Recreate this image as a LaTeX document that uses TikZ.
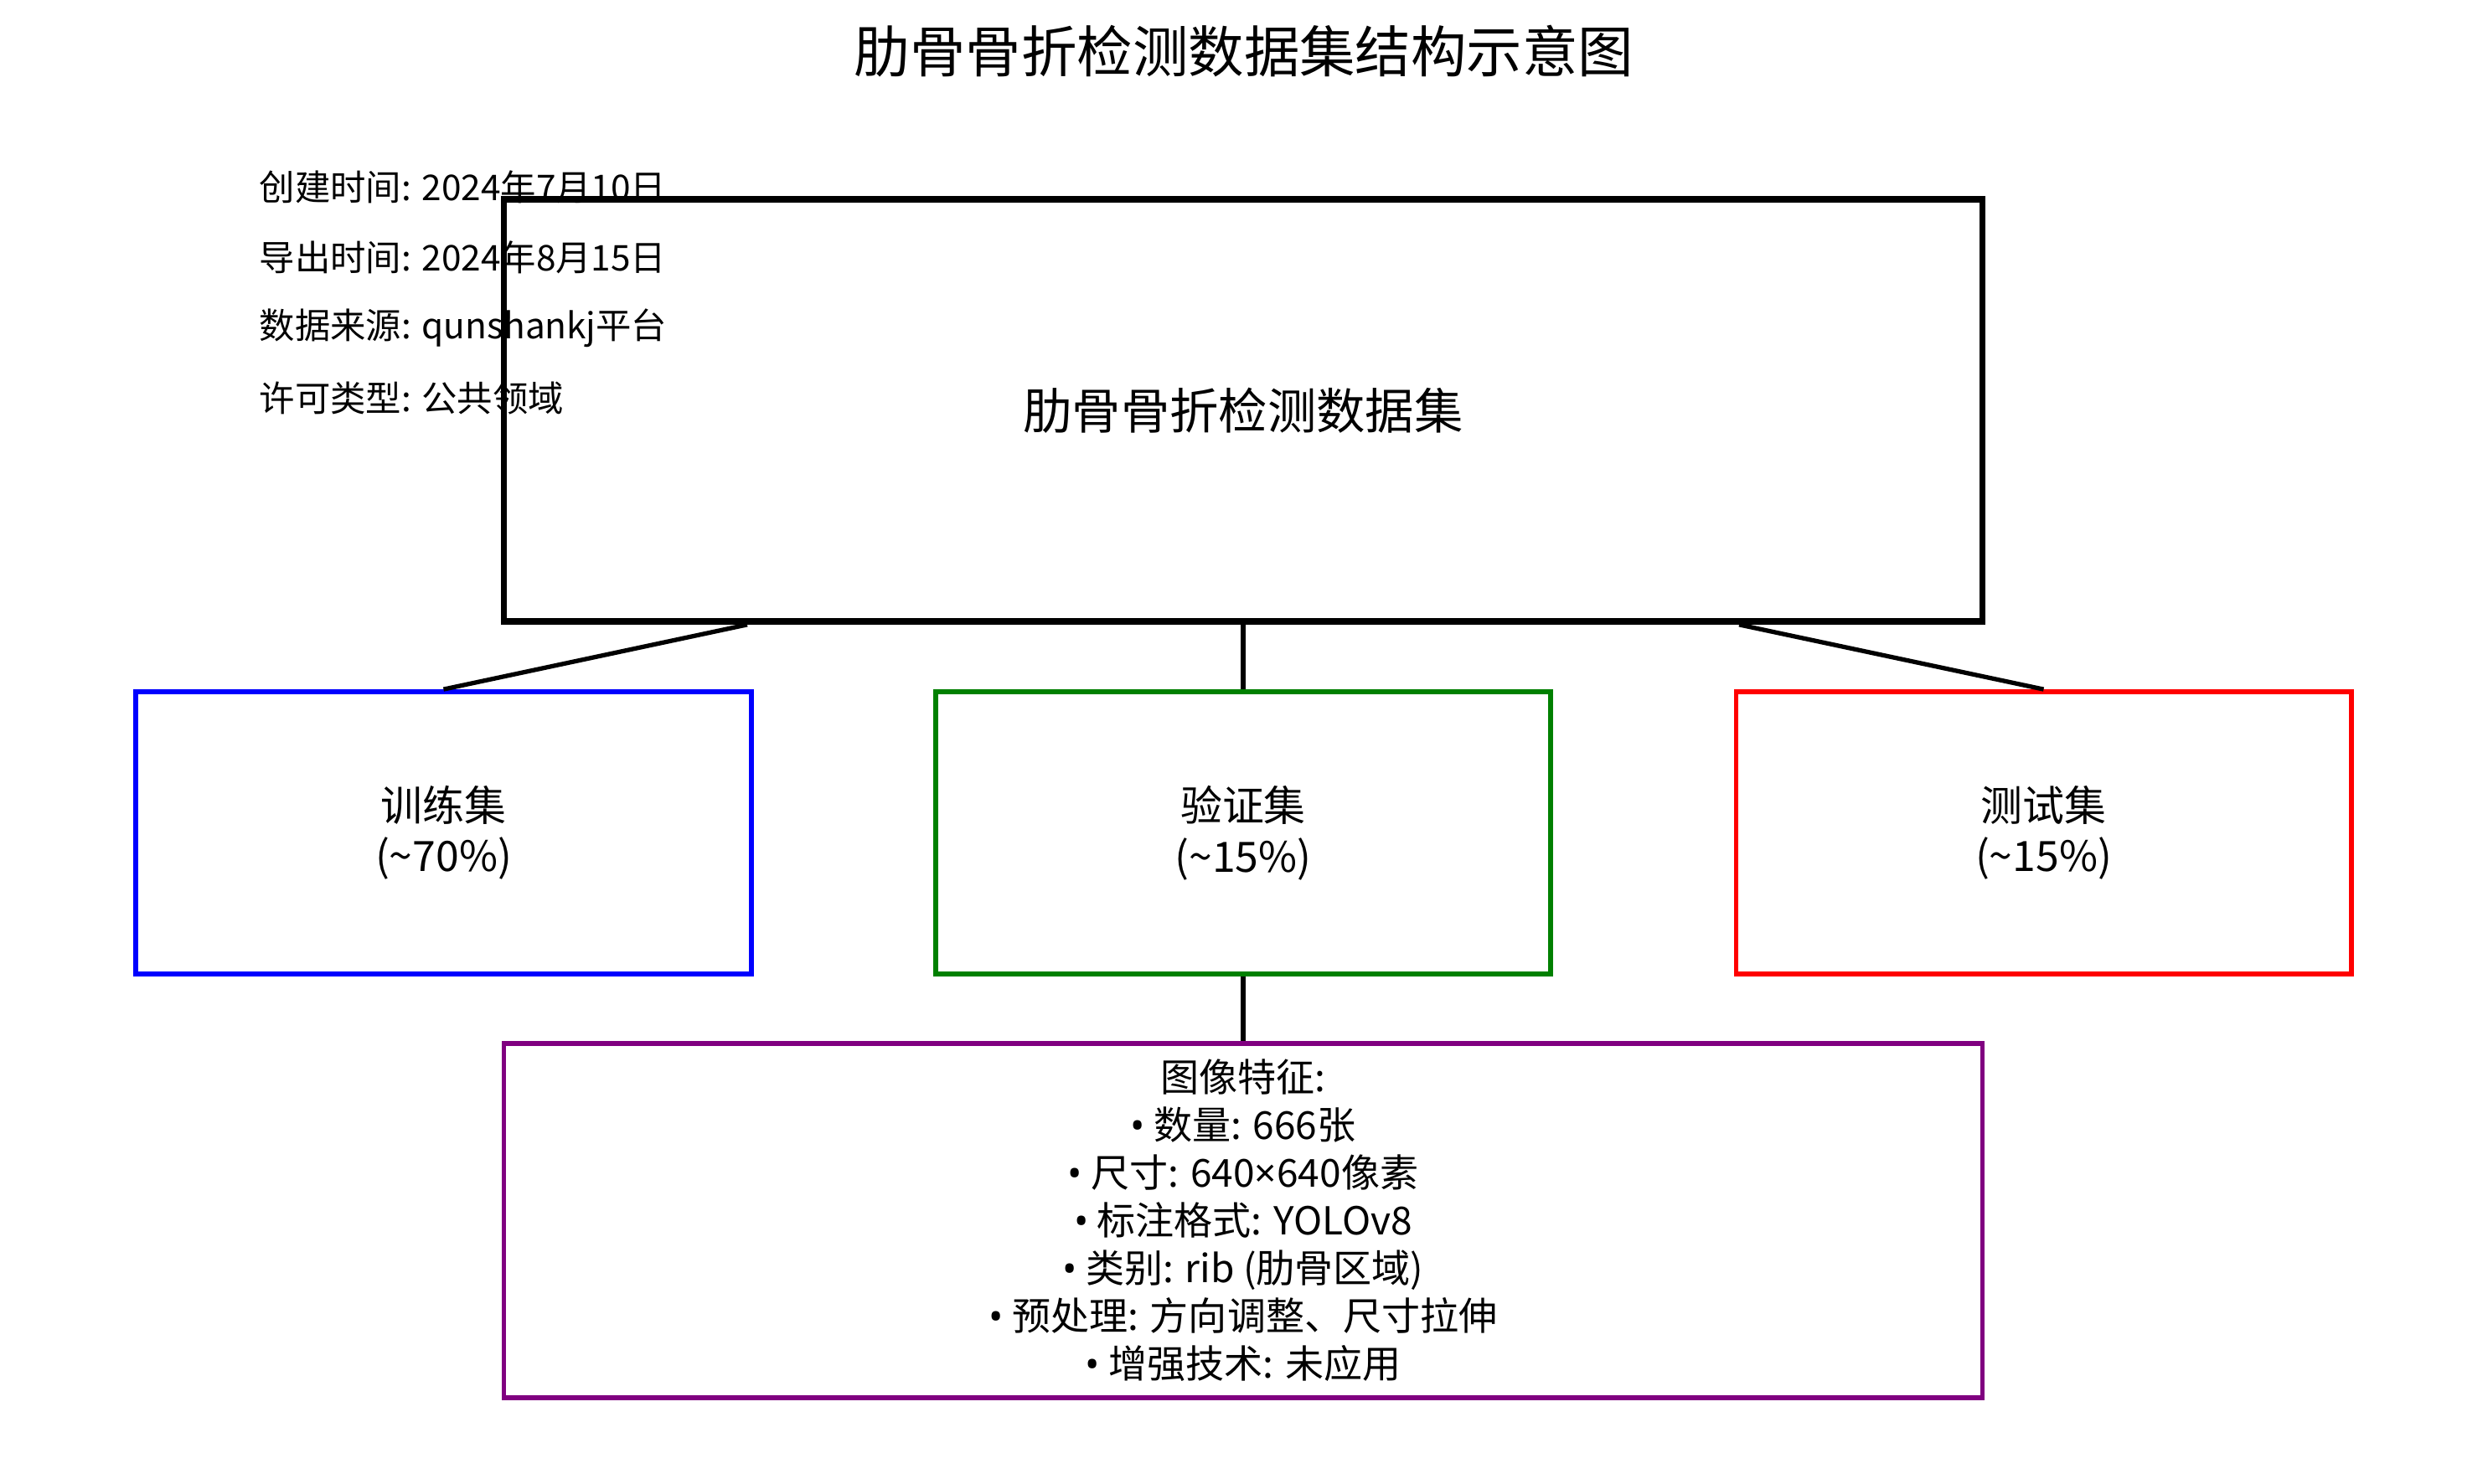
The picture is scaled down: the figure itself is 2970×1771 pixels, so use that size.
\documentclass[tikz,border=0pt]{standalone}
\usepackage{fontspec}
\setmainfont{Noto Sans CJK SC}
\newfontfamily\latinfont{Noto Sans}
\newcommand{\bul}{{\latinfont •}}
\newcommand{\tms}{{\latinfont ×}}
\definecolor{cblue}{RGB}{0,0,255}
\definecolor{cgreen}{RGB}{0,128,0}
\definecolor{cred}{RGB}{255,0,0}
\definecolor{cpurple}{RGB}{128,0,128}
\tikzset{
  mainbox/.style={draw=black, line width=2.1pt, minimum width=17.64cm, minimum height=5.04cm, inner sep=0pt,
    font=\fontsize{16.6}{20}\selectfont},
  setbox/.style={draw=#1, line width=1.6pt, minimum width=7.34cm, minimum height=3.37cm, inner sep=0pt,
    align=center, font=\fontsize{14.2}{17.2}\selectfont},
  featbox/.style={draw=cpurple, line width=1.6pt, minimum width=17.64cm, minimum height=4.23cm, inner sep=0pt,
    align=center, font=\fontsize{13.1}{16.2}\selectfont},
  info/.style={anchor=west, inner sep=0pt, font=\fontsize{12.05}{15}\selectfont},
  link/.style={draw=black, line width=1.5pt},
}
\begin{document}
\begin{tikzpicture}[x=0.01cm, y=-0.01cm]
\useasboundingbox (0,0) rectangle (2970,1771);
\fill[white] (0,0) rectangle (2970,1771);
% title
\node[inner sep=0pt, font=\fontsize{18.9}{22}\selectfont] (title) at (1485,61) {肋骨骨折检测数据集结构示意图};
% info lines
\node[info] (i1) at (309,223) {创建时间: 2024年7月10日};
\node[info] (i2) at (309,307) {导出时间: 2024年8月15日};
\node[info] (i3) at (309,392) {数据来源: qunshankj平台};
\node[info] (i4) at (309,475) {许可类型: 公共领域};
% boxes
\node[mainbox] (main) at (1484,490) {肋骨骨折检测数据集};
\node[setbox=cblue] (train) at (529.5,994.5) {训练集\\(\textasciitilde 70\%)};
\node[setbox=cgreen] (val) at (1484,994.5) {验证集\\(\textasciitilde 15\%)};
\node[setbox=cred] (test) at (2439.5,994.5) {测试集\\(\textasciitilde 15\%)};
\node[featbox] (feat) at (1484,1457.5) {图像特征:\\\bul\ 数量: 666张\\\bul\ 尺寸: 640\tms 640像素\\\bul\ 标注格式: YOLOv8\\\bul\ 类别: rib (肋骨区域)\\\bul\ 预处理: 方向调整、尺寸拉伸\\\bul\ 增强技术: 未应用};
% connectors
\coordinate (mL) at ([xshift=2.94cm]main.south west);
\coordinate (mR) at ([xshift=-2.94cm]main.south east);
\draw[link] (mL) -- (train.north);
\draw[link] (main.south) -- (val.north);
\draw[link] (mR) -- (test.north);
\draw[link] (val.south) -- (feat.north);
\end{tikzpicture}
\end{document}
